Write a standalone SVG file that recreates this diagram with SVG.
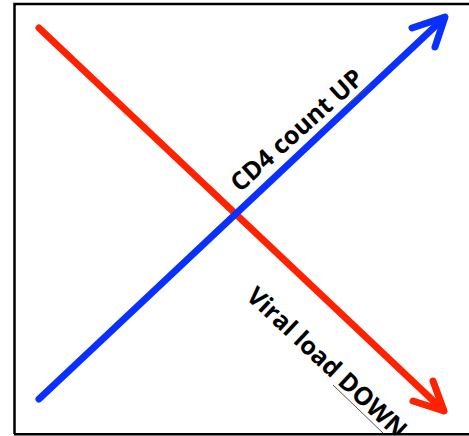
<svg xmlns="http://www.w3.org/2000/svg" width="469" height="436" viewBox="0 0 469 436">
<style>
.lbl{font-family:"Open Sans","Liberation Sans",sans-serif;font-weight:bold;font-size:25px;fill:#000}
.sq{stroke:#555;stroke-width:1;fill:none}
</style>
<defs>
<clipPath id="c"><rect x="15" y="4" width="454" height="430"/></clipPath>
</defs>
<rect width="469" height="436" fill="#fff"/>
<g id="frame" stroke="#000" stroke-width="2.5" fill="none">
<path d="M14.5 434 V4 H469"/>
<path d="M14 434.2 H469"/>
</g>
<g id="connectors" fill="none" stroke-width="7" stroke-linecap="round" stroke-linejoin="round">
<g id="red" stroke="#ff2200">
<path d="M39 28 L443 410"/>
<path d="M433 381 L444 411 L413 401"/>
</g>
<g id="blue" stroke="#0a30ff">
<path d="M39 399 L444 18"/>
<path d="M412 28 L445 17 L435 47"/>
</g>
</g>
<g clip-path="url(#c)">
<g id="cd4"><text class="lbl" transform="translate(240,193) rotate(-42)">CD4 count UP</text></g>
<g id="viral"><text class="lbl" transform="translate(245,298) rotate(43)">Viral load DOWN</text></g>
<path class="sq" d="M345 107 L370 85"/>
<path class="sq" d="M333 385 L383 433"/>
</g>
</svg>
